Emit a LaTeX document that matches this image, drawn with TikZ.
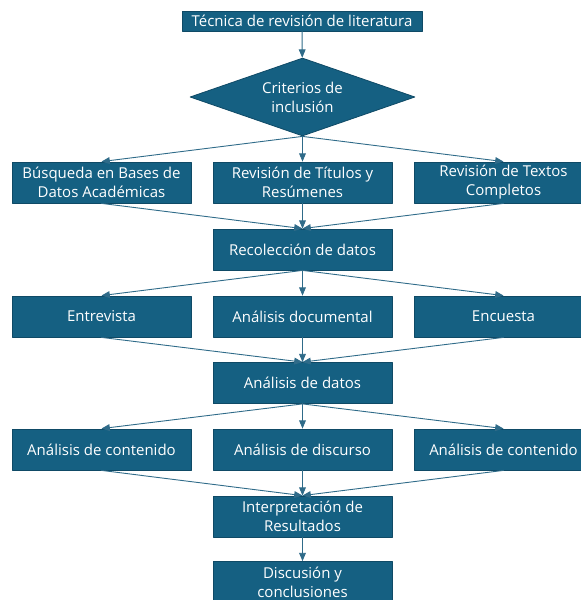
\documentclass[tikz,border=0pt]{standalone}
\usepackage{fontspec}
\setmainfont{Open Sans}
\usetikzlibrary{arrows}
\usetikzlibrary{shapes.geometric}
\definecolor{azul}{HTML}{156082}
\definecolor{borde}{HTML}{0F4A66}
\definecolor{flecha}{HTML}{2F6B89}

\begin{document}
\begin{tikzpicture}[line cap=round,line join=round,>=triangle 45,x=1pt,y=1pt,
  caja/.style={draw=borde,fill=azul,text=white,line width=0.8pt,inner sep=0pt,
    minimum width=179,minimum height=41,align=center,
    font=\fontsize{15}{19}\selectfont},
  rombo/.style={diamond,draw=borde,fill=azul,text=white,line width=0.8pt,inner sep=0pt,
    minimum width=225,minimum height=78,aspect=2.9,align=center,
    font=\fontsize{15}{19}\selectfont},
  flujo/.style={->,draw=flecha,line width=0.9pt}]
\clip(0,-600) rectangle (581,0);
\draw (302,-21) node[caja,minimum width=240,minimum height=20] (tecnica) {Técnica de revisión de literatura};
\draw (302.5,-97) node[rombo] (criterios) {Criterios de\\inclusión};
\draw (101.5,-182.5) node[caja] (busqueda) {Búsqueda en Bases de\\Datos Académicas};
\draw (302.5,-182.5) node[caja] (titulos) {Revisión de Títulos y\\Resúmenes};
\draw (503.5,-182.5) node[caja] (textos) {Revisión de Textos\\Completos};
\draw (302.5,-249.5) node[caja] (recoleccion) {Recolección de datos};
\draw (101.5,-316.5) node[caja] (entrevista) {Entrevista};
\draw (302.5,-316.5) node[caja] (documental) {Análisis documental};
\draw (503.5,-316.5) node[caja] (encuesta) {Encuesta};
\draw (302.5,-383) node[caja] (datos) {Análisis de datos};
\draw (101.5,-449.5) node[caja] (contenido) {Análisis de contenido};
\draw (302.5,-449.5) node[caja] (discurso) {Análisis de discurso};
\draw (503.5,-449.5) node[caja] (contenidob) {Análisis de contenido};
\draw (302.5,-516.5) node[caja] (interpretacion) {Interpretación de\\Resultados};
\draw (302.5,-582) node[caja] (discusion) {Discusión y\\conclusiones};
\draw[flujo] (tecnica) -- (criterios);
\draw[flujo] (criterios.south) -- (busqueda.north);
\draw[flujo] (criterios.south) -- (titulos.north);
\draw[flujo] (criterios.south) -- (textos.north);
\draw[flujo] (busqueda.south) -- (recoleccion.north);
\draw[flujo] (titulos.south) -- (recoleccion.north);
\draw[flujo] (textos.south) -- (recoleccion.north);
\draw[flujo] (recoleccion.south) -- (entrevista.north);
\draw[flujo] (recoleccion.south) -- (documental.north);
\draw[flujo] (recoleccion.south) -- (encuesta.north);
\draw[flujo] (entrevista.south) -- (datos.north);
\draw[flujo] (documental.south) -- (datos.north);
\draw[flujo] (encuesta.south) -- (datos.north);
\draw[flujo] (datos.south) -- (contenido.north);
\draw[flujo] (datos.south) -- (discurso.north);
\draw[flujo] (datos.south) -- (contenidob.north);
\draw[flujo] (contenido.south) -- (interpretacion.north);
\draw[flujo] (discurso.south) -- (interpretacion.north);
\draw[flujo] (contenidob.south) -- (interpretacion.north);
\draw[flujo] (interpretacion) -- (discusion);
\end{tikzpicture}
\end{document}
